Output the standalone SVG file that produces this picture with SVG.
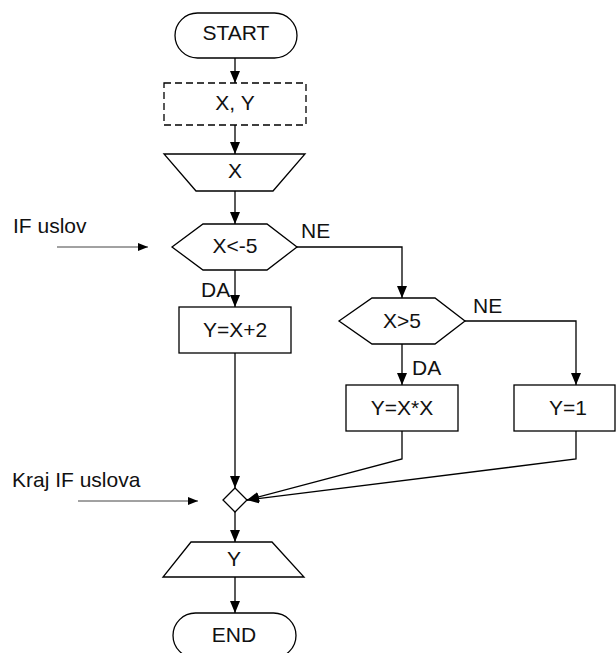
<svg xmlns="http://www.w3.org/2000/svg" width="616" height="653" viewBox="0 0 616 653">
<style>
.s{fill:#fff;stroke:#000;stroke-width:1.3}
.d{fill:#fff;stroke:#000;stroke-width:1.3;stroke-dasharray:7,4}
.t{font-family:"Liberation Sans",Arial,sans-serif;font-size:21px;fill:#111}
.m{text-anchor:middle}
.c{fill:none;stroke:#000;stroke-width:1.3}
.a{fill:none;stroke:#444;stroke-width:1}
</style>
<defs>
<marker id="ah" markerUnits="userSpaceOnUse" markerWidth="12" markerHeight="10" refX="12" refY="5" orient="auto">
<path d="M0,0 L12,5 L0,10 z" fill="#000"/>
</marker>
<marker id="ah2" markerUnits="userSpaceOnUse" markerWidth="10" markerHeight="8" refX="10" refY="4" orient="auto">
<path d="M0,0 L10,4 L0,8 z" fill="#000"/>
</marker>
</defs>
<g id="connectors">
<path class="c" d="M235,58 V83" marker-end="url(#ah)"/>
<path class="c" d="M235,125 V154" marker-end="url(#ah)"/>
<path class="c" d="M235,191 V224" marker-end="url(#ah)"/>
<path class="c" d="M235,270 V307" marker-end="url(#ah)"/>
<path class="c" d="M297,247 H402 V298" marker-end="url(#ah)"/>
<path class="c" d="M402,344 V385" marker-end="url(#ah)"/>
<path class="c" d="M465,321 H576 V385" marker-end="url(#ah)"/>
<path class="c" d="M235,353 V488" marker-end="url(#ah)"/>
<path class="c" d="M402,431 V459 L247,500" marker-end="url(#ah)"/>
<path class="c" d="M576,431 V459 L247,500" marker-end="url(#ah)"/>
<path class="c" d="M235,512 V542" marker-end="url(#ah)"/>
<path class="c" d="M235,577 V613" marker-end="url(#ah)"/>
<path class="a" d="M57,247 H148" marker-end="url(#ah2)"/>
<path class="a" d="M78,501 H198" marker-end="url(#ah2)"/>
<text class="t" x="201" y="297">DA</text>
<text class="t" x="301" y="238">NE</text>
<text class="t" x="412" y="375">DA</text>
<text class="t" x="473" y="313">NE</text>
</g>
<g id="start"><rect class="s" x="175" y="13" width="122" height="45" rx="22.5"/><text class="t m" x="236" y="40">START</text></g>
<g id="decl"><rect class="d" x="164" y="83" width="142" height="42"/><text class="t m" x="235" y="110">X, Y</text></g>
<g id="inputX"><polygon class="s" points="164,154 305,154 273,191 196,191"/><text class="t m" x="235" y="178">X</text></g>
<g id="cond1"><polygon class="s" points="172,247 203,224 267,224 297,247 267,270 203,270"/><text class="t m" x="235" y="253">X&lt;-5</text></g>
<g id="label-if"><text class="t" x="13" y="233">IF uslov</text></g>
<g id="assign1"><rect class="s" x="179" y="307" width="112" height="46"/><text class="t m" x="235" y="337">Y=X+2</text></g>
<g id="cond2"><polygon class="s" points="339,321 372,298 435,298 465,321 435,344 372,344"/><text class="t m" x="402" y="328">X&gt;5</text></g>
<g id="assign2"><rect class="s" x="346" y="385" width="112" height="46"/><text class="t m" x="402" y="415">Y=X*X</text></g>
<g id="assign3"><rect class="s" x="514" y="385" width="101" height="46"/><text class="t m" x="568" y="415">Y=1</text></g>
<g id="merge"><polygon class="s" points="235,488 247,500 235,512 223,500"/></g>
<g id="label-end-if"><text class="t" x="12" y="487">Kraj IF uslova</text></g>
<g id="outputY"><polygon class="s" points="191,542 272,542 304,577 163,577"/><text class="t m" x="234" y="566">Y</text></g>
<g id="end"><rect class="s" x="173" y="613" width="123" height="45" rx="22.5"/><text class="t m" x="234" y="642">END</text></g>
</svg>
